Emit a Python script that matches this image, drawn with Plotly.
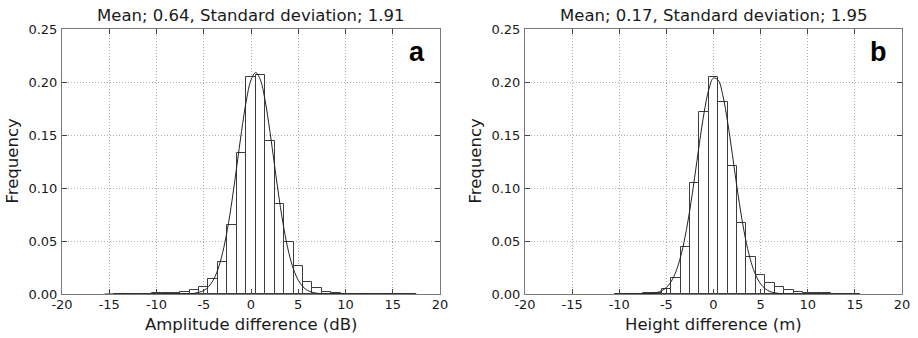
import plotly.graph_objects as go

# ---- Data ----
bin_centers_a = list(range(-14, 18))
freq_a = [0.0001, 0.0001, 0.0002, 0.0003, 0.0005, 0.0008, 0.0012, 0.0019, 0.0038, 0.0063,
          0.0142, 0.030, 0.065, 0.1326, 0.205, 0.207, 0.144, 0.0847, 0.0488, 0.0268,
          0.0117, 0.0054, 0.0022, 0.0008, 0.0003, 0.0001, 0.0001, 0.0001, 0.0001, 0.0001,
          0.0001, 0.0001]

bin_centers_b = list(range(-10, 16))
freq_b = [0.0001, 0.0002, 0.0003, 0.0006, 0.0013, 0.005, 0.0151, 0.0447, 0.105, 0.1716,
          0.205, 0.181, 0.121, 0.0668, 0.0346, 0.0183, 0.0101, 0.0063, 0.0035, 0.0019,
          0.0013, 0.0008, 0.0005, 0.0003, 0.0002, 0.0001]

curve_x_a = [-15.5, -8, -7, -6, -5, -4.5, -4, -3.5, -3, -2.5, -2, -1.5, -1, -0.5, 0, 0.5,
             1, 1.5, 2, 2.5, 3, 3.5, 4, 4.5, 5, 5.5, 6, 7, 8, 9, 17.5]
curve_y_a = [0.0, 0.00001, 0.0001, 0.00064, 0.0033, 0.0068, 0.0130, 0.0233, 0.039, 0.0608,
             0.0887, 0.1208, 0.1535, 0.1822, 0.2019, 0.2089, 0.2019, 0.1822, 0.1535, 0.1208,
             0.0887, 0.0608, 0.039, 0.0233, 0.0130, 0.0068, 0.0033, 0.00064, 0.0001, 0.00001, 0.0]

curve_x_b = [-10.5, -8, -7, -6, -5.5, -5, -4.5, -4, -3.5, -3, -2.5, -2, -1.5, -1, -0.5, 0,
             0.5, 1, 1.5, 2, 2.5, 3, 3.5, 4, 4.5, 5, 5.5, 6, 7, 8, 15.5]
curve_y_b = [0.0, 0.00003, 0.00024, 0.00137, 0.0031, 0.0061, 0.0116, 0.0208, 0.0348, 0.0546,
             0.0801, 0.110, 0.1418, 0.1709, 0.1929, 0.2038, 0.2017, 0.1869, 0.1621, 0.1317,
             0.1002, 0.0714, 0.0476, 0.0297, 0.0174, 0.0095, 0.0049, 0.00234, 0.00044, 0.00006, 0.0]

titles = ["Mean; 0.64, Standard deviation; 1.91", "Mean; 0.17, Standard deviation; 1.95"]
xlabels = ["Amplitude difference (dB)", "Height difference (m)"]
ylabel = "Frequency"
panel_labels = ["a", "b"]
x_ticks = [-20, -15, -10, -5, 0, 5, 10, 15, 20]
y_ticks = [0.00, 0.05, 0.10, 0.15, 0.20, 0.25]

FONT = "DejaVu Sans"
TXT = "#1a1a1a"
W, H = 918, 338
ML, MT = 62, 29
PLOT_R, PLOT_B = 902, 294
MR, MB = W - PLOT_R, H - PLOT_B
PW, PH = W - ML - MR, H - MT - MB

fig = go.Figure()

panels = [
    (bin_centers_a, freq_a, curve_x_a, curve_y_a, "x", "y"),
    (bin_centers_b, freq_b, curve_x_b, curve_y_b, "x2", "y2"),
]
for bc, fr, cx, cy, xa, ya in panels:
    fig.add_trace(go.Bar(x=bc, y=fr, width=1, xaxis=xa, yaxis=ya,
                         marker=dict(color="white", line=dict(color="#3c3c3c", width=1)),
                         showlegend=False, hoverinfo="skip"))
    fig.add_trace(go.Scatter(x=cx, y=cy, mode="lines", xaxis=xa, yaxis=ya,
                             line=dict(color="#222222", width=1, shape="spline", smoothing=1),
                             showlegend=False))

axis_common = dict(showline=True, linecolor="#7a7a7a", linewidth=1, mirror="allticks",
                   ticks="inside", ticklen=5, tickcolor="#444444", tickwidth=1,
                   showgrid=True, gridcolor="#b0b0b0", griddash="1px,2px", gridwidth=1,
                   zeroline=False, automargin=False,
                   tickfont=dict(family=FONT, size=13, color=TXT))

def fmt_x(t):
    return ("-" + str(-t)) if t < 0 else str(t)

xdomains = [[0.0, (440 - ML) / PW], [(525 - ML) / PW, 1.0]]
for i, (xa, ya) in enumerate([("xaxis", "yaxis"), ("xaxis2", "yaxis2")]):
    fig.layout[xa] = dict(axis_common, domain=xdomains[i], range=[-20, 20],
                          tickvals=x_ticks, ticktext=[fmt_x(t) for t in x_ticks],
                          anchor="y" if i == 0 else "y2", ticklabelstandoff=-2)
    fig.layout[ya] = dict(axis_common, domain=[0, 1], range=[0, 0.25],
                          tickvals=y_ticks, ticktext=[f"{t:.2f}" for t in y_ticks],
                          anchor="x" if i == 0 else "x2", ticklabelstandoff=1)

annotations = []
for i in range(2):
    x0, x1 = xdomains[i]
    xc = (x0 + x1) / 2
    annotations.append(dict(text=titles[i], xref="paper", yref="paper", x=xc,
                            y=(PLOT_B - 15.3) / PH, xanchor="center", yanchor="middle",
                            showarrow=False, font=dict(family=FONT, size=16.5, color=TXT)))
    annotations.append(dict(text=xlabels[i], xref="paper", yref="paper", x=xc,
                            y=(PLOT_B - 324.5) / PH, xanchor="center", yanchor="middle",
                            showarrow=False, font=dict(family=FONT, size=16.5, color=TXT)))
    annotations.append(dict(text=ylabel, xref="paper", yref="paper",
                            x=x0 - 50 / PW, y=0.5, xanchor="center", yanchor="middle",
                            textangle=-90, showarrow=False,
                            font=dict(family=FONT, size=16.5, color=TXT)))
    annotations.append(dict(text="<b>" + panel_labels[i] + "</b>", xref="paper", yref="paper",
                            x=x1 - 13 / PW, y=(PLOT_B - 52) / PH, xanchor="right", yanchor="middle",
                            showarrow=False,
                            font=dict(family="Liberation Sans", size=27, color="black")))

fig.update_layout(width=W, height=H, margin=dict(l=ML, r=MR, t=MT, b=MB, autoexpand=False),
                  paper_bgcolor="white", plot_bgcolor="white", bargap=0,
                  annotations=annotations)

# remove the browser's default 8px body margin so the figure fills the window
fig.write_html("out.html", config={"displayModeBar": False},
               post_script="document.body.style.margin='0px';")
